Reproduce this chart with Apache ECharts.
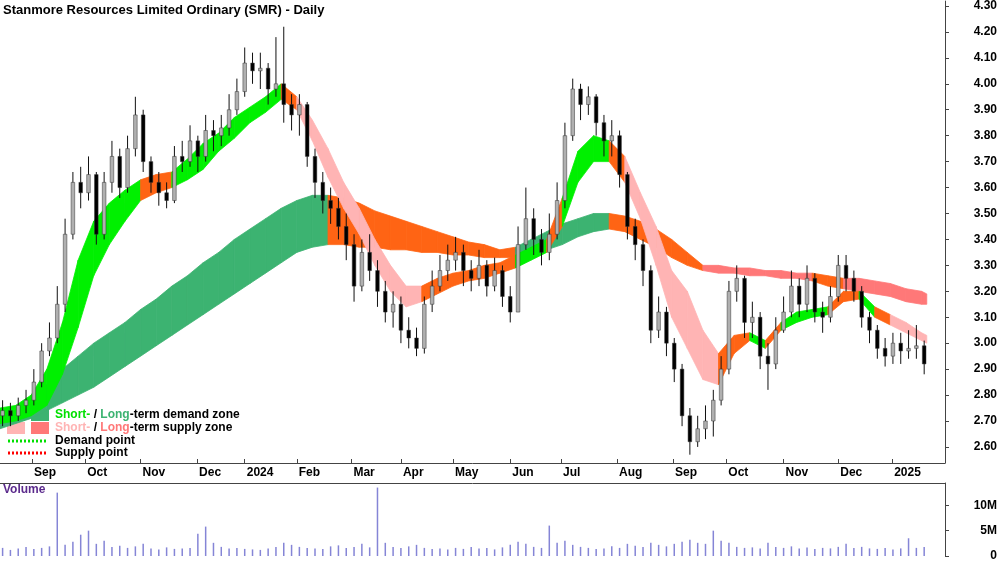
<!DOCTYPE html>
<html><head><meta charset="utf-8">
<script src="https://cdn.jsdelivr.net/npm/echarts@6/dist/echarts.min.js"></script>
<style>html,body{margin:0;padding:0;background:#fff}#c{width:1000px;height:562px}</style>
</head><body><div id="c"></div>
<script>
// ---- data ----
const candleStep = 3; // trading days per candle
const firstOpen = 2.72;
const closes = [2.74,2.72,2.76,2.78,2.85,2.97,3.02,3.15,3.42,3.62,3.58,3.65,3.42,3.62,3.72,3.60,3.75,3.88,3.70,3.62,3.58,3.55,3.72,3.70,3.78,3.72,3.82,3.80,3.83,3.90,3.97,4.08,4.05,4.06,3.98,4.00,3.92,3.88,3.92,3.72,3.62,3.55,3.52,3.45,3.38,3.22,3.35,3.28,3.20,3.12,3.15,3.05,3.02,2.98,3.15,3.22,3.28,3.32,3.35,3.28,3.25,3.30,3.22,3.28,3.18,3.12,3.38,3.48,3.40,3.35,3.42,3.55,3.80,3.98,3.92,3.95,3.85,3.78,3.80,3.65,3.45,3.38,3.28,3.05,3.12,3.00,2.90,2.72,2.62,2.67,2.70,2.78,2.90,3.20,3.25,3.08,3.10,2.95,2.92,3.05,3.12,3.22,3.15,3.25,3.12,3.10,3.18,3.30,3.25,3.20,3.10,3.05,2.98,2.95,3.00,2.97,2.98,2.99,2.92];
const highs = [2.78,2.77,2.79,2.82,2.90,3.00,3.08,3.22,3.48,3.66,3.68,3.72,3.66,3.66,3.78,3.75,3.80,3.95,3.90,3.72,3.66,3.62,3.76,3.78,3.84,3.80,3.88,3.86,3.88,3.96,4.02,4.14,4.12,4.12,4.08,4.18,4.22,3.96,3.96,3.93,3.75,3.66,3.60,3.56,3.50,3.42,3.40,3.42,3.32,3.24,3.20,3.18,3.10,3.06,3.18,3.28,3.34,3.38,3.41,3.38,3.32,3.36,3.32,3.33,3.30,3.22,3.45,3.60,3.52,3.44,3.50,3.62,3.85,4.02,4.00,3.99,3.96,3.88,3.86,3.82,3.66,3.48,3.40,3.30,3.18,3.14,3.02,2.92,2.75,2.72,2.76,2.82,2.95,3.24,3.30,3.26,3.16,3.12,3.00,3.10,3.18,3.28,3.25,3.30,3.27,3.16,3.22,3.34,3.34,3.28,3.22,3.12,3.07,3.02,3.04,3.04,3.05,3.07,3.01];
const lows = [2.68,2.68,2.70,2.73,2.76,2.83,2.95,3.00,3.12,3.40,3.52,3.55,3.38,3.40,3.58,3.56,3.58,3.72,3.66,3.58,3.53,3.52,3.54,3.66,3.68,3.66,3.70,3.74,3.76,3.80,3.88,3.95,4.00,3.98,3.92,3.95,3.85,3.82,3.80,3.68,3.56,3.50,3.46,3.40,3.32,3.16,3.20,3.24,3.14,3.08,3.06,3.00,2.98,2.95,2.96,3.12,3.20,3.24,3.28,3.22,3.20,3.22,3.18,3.20,3.14,3.08,3.12,3.36,3.34,3.30,3.32,3.40,3.52,3.78,3.86,3.88,3.80,3.72,3.72,3.60,3.40,3.32,3.22,3.00,3.02,2.95,2.85,2.68,2.57,2.60,2.63,2.64,2.76,2.88,3.16,3.02,3.02,2.90,2.82,2.90,3.04,3.10,3.10,3.12,3.08,3.04,3.08,3.16,3.20,3.16,3.06,3.00,2.94,2.91,2.92,2.92,2.94,2.94,2.88];
const volumes = [1.6,1.2,1.5,1.8,1.4,1.6,1.9,12.5,2.2,2.8,4.2,5.0,2.4,3.0,1.8,2.0,1.6,1.9,2.4,1.5,1.3,1.7,1.4,1.5,1.6,4.4,5.8,2.6,1.8,1.5,1.6,1.4,1.3,1.2,1.5,1.8,2.6,2.2,1.8,1.6,1.5,1.4,1.9,2.1,1.6,1.8,2.4,1.7,13.5,2.6,1.8,1.6,1.9,2.2,1.6,1.4,1.5,1.3,1.6,1.4,1.8,1.5,1.6,1.3,1.7,2.2,2.8,2.4,1.8,1.6,6.0,2.6,3.0,2.2,1.8,1.6,1.4,1.5,1.9,1.6,2.4,2.0,1.8,2.6,2.2,1.9,2.4,2.8,3.2,2.6,2.4,5.0,3.0,2.6,1.8,1.6,1.7,1.5,2.6,1.8,1.6,1.9,1.5,1.7,1.4,1.6,1.5,1.8,2.4,1.6,1.8,1.5,1.4,1.6,1.3,1.5,3.5,1.6,1.8];
const bandStep = 6; // trading days per band point
const shortLo = [2.69,2.70,2.72,2.76,2.88,3.06,3.26,3.38,3.47,3.55,3.58,3.60,3.63,3.67,3.74,3.79,3.85,3.89,3.94,3.90,3.78,3.64,3.52,3.42,3.30,3.20,3.14,3.16,3.19,3.22,3.24,3.25,3.27,3.29,3.32,3.35,3.45,3.62,3.70,3.70,3.62,3.48,3.30,3.10,2.98,2.86,2.84,2.96,3.01,2.98,3.05,3.08,3.10,3.11,3.16,3.17,3.10,3.07,3.04,3.01,3.00];
const shortHi = [2.75,2.76,2.80,2.90,3.08,3.32,3.47,3.54,3.59,3.63,3.65,3.66,3.71,3.77,3.81,3.87,3.91,3.95,4.00,3.95,3.86,3.75,3.62,3.52,3.40,3.30,3.22,3.22,3.25,3.27,3.28,3.30,3.31,3.34,3.37,3.40,3.56,3.74,3.80,3.78,3.72,3.58,3.45,3.28,3.20,3.05,2.96,3.03,3.04,3.01,3.08,3.12,3.13,3.14,3.20,3.20,3.14,3.11,3.08,3.04,3.03];
const shortState = "gggggggggoogggggggoppppppppooooooggogggoppppppoogogggoogoppppp";
const longLo = [2.67,2.69,2.71,2.74,2.77,2.80,2.83,2.87,2.91,2.95,2.99,3.03,3.07,3.11,3.15,3.19,3.23,3.27,3.31,3.35,3.37,3.38,3.38,3.37,3.37,3.36,3.36,3.35,3.35,3.34,3.34,3.33,3.33,3.33,3.34,3.36,3.38,3.41,3.43,3.44,3.43,3.40,3.37,3.33,3.30,3.28,3.27,3.27,3.26,3.26,3.25,3.25,3.24,3.22,3.21,3.20,3.19,3.18,3.16,3.15,3.15];
const longHi = [2.72,2.74,2.78,2.84,2.90,2.95,3.00,3.04,3.08,3.13,3.17,3.22,3.26,3.31,3.35,3.40,3.44,3.48,3.52,3.55,3.57,3.57,3.56,3.54,3.51,3.49,3.47,3.45,3.43,3.41,3.39,3.38,3.36,3.37,3.40,3.43,3.46,3.48,3.50,3.50,3.49,3.47,3.44,3.40,3.35,3.30,3.30,3.29,3.29,3.28,3.28,3.27,3.27,3.26,3.25,3.25,3.24,3.23,3.21,3.20,3.19];
const longState = "GGGGGGGGGGGGGGGGGGGGGOOOOOOOOOOOOGGGGGGOOOOOOSSSSSSSOOSSSSSSS";
const tickDays = [12.3,32.7,54,75.7,94,114,135,154,174,196,215.5,237,258.5,279,301,322,342.7];
const tickNames = ["Sep","Oct","Nov","Dec","2024","Feb","Mar","Apr","May","Jun","Jul","Aug","Sep","Oct","Nov","Dec","2025"];
const priceTicks = [2.6,2.7,2.8,2.9,3.0,3.1,3.2,3.3,3.4,3.5,3.6,3.7,3.8,3.9,4.0,4.1,4.2,4.3];
const volTicks = [0,5,10];

// ---- build ----
const stateKeys = 'gopGOS';
const palette = ['#00f000','#ff6414','#ffb4b4','#3cb371','#ff6414','#ff7878'];
const candleData = closes.map((c,i)=>[i*candleStep+1, i?closes[i-1]:firstOpen, c, lows[i], highs[i]]);
const volData = volumes.map((v,i)=>[i*candleStep+1, v]);
function bandSegs(lo,hi,st){
  const out=[];
  for(let k=0;k<lo.length-1;k++){
    const x1 = (k+1===lo.length-1)? (k*bandStep+2) : (k+1)*bandStep;
    out.push([k*bandStep, lo[k], hi[k], x1, lo[k+1], hi[k+1], stateKeys.indexOf(st[k])]);
  }
  return out;
}
function bandRender(params, api){
  const a=api.coord([api.value(0),api.value(1)]), b=api.coord([api.value(0),api.value(2)]);
  const c=api.coord([api.value(3),api.value(5)]), d=api.coord([api.value(3),api.value(4)]);
  const col = palette[api.value(6)];
  return {type:'polygon', shape:{points:[a,b,c,d]}, style:{fill:col, stroke:col, lineWidth:0.8}};
}
function candleRender(params, api){
  const x=api.value(0), o=api.value(1), c=api.value(2), l=api.value(3), h=api.value(4);
  const pl=api.coord([x,l]), ph=api.coord([x,h]), po=api.coord([x,o]), pc=api.coord([x,c]);
  const up = c>=o;
  const top=Math.min(po[1],pc[1]), bh=Math.max(1,Math.abs(po[1]-pc[1]));
  return {type:'group', children:[
    {type:'line', shape:{x1:pl[0],y1:pl[1],x2:ph[0],y2:ph[1]}, style:{stroke:'#111',lineWidth:1}},
    {type:'rect', shape:{x:pl[0]-1.8,y:top,width:3.6,height:bh}, style:{fill: up?'#b0b0b0':'#000', stroke:'#333', lineWidth:0.5}}
  ]};
}
const bold = {fontFamily:'Liberation Sans, Arial', fontWeight:'bold', fontSize:12, color:'#000'};
const chart = echarts.init(document.getElementById('c'));
chart.setOption({
  animation:false,
  grid:[{left:0,right:55,top:0,height:463,show:false},{left:0,right:55,top:483,bottom:4,show:false}],
  xAxis:[
    {type:'value',gridIndex:0,min:0,max:363,axisLine:{show:true,onZero:false,lineStyle:{color:'#444'}},splitLine:{show:false},
     axisTick:{show:true,customValues:tickDays,inside:true,length:4,lineStyle:{color:'#444'}},
     axisLabel:Object.assign({customValues:tickDays,align:'left',margin:4,padding:[0,0,0,2],
       formatter:v=>{const i=tickDays.findIndex(t=>Math.abs(t-v)<0.01);return i>=0?tickNames[i]:'';}},bold)},
    {type:'value',gridIndex:1,min:0,max:363,axisLine:{show:true,onZero:false,lineStyle:{color:'#444'}},position:'top',axisTick:{show:false},axisLabel:{show:false},splitLine:{show:false}}
  ],
  yAxis:[
    {type:'value',gridIndex:0,position:'right',min:2.538,max:4.319,axisLine:{show:true,onZero:false,lineStyle:{color:'#444'}},splitLine:{show:false},
     axisTick:{show:true,customValues:priceTicks,length:4,lineStyle:{color:'#444'}},
     axisLabel:Object.assign({customValues:priceTicks,align:'right',margin:52,formatter:v=>v.toFixed(2)},bold)},
    {type:'value',gridIndex:1,position:'right',min:0,max:14.4,axisLine:{show:true,onZero:false,lineStyle:{color:'#444'}},splitLine:{show:false},
     axisTick:{show:true,customValues:volTicks,length:4,lineStyle:{color:'#444'}},
     axisLabel:Object.assign({customValues:volTicks,align:'right',margin:52,formatter:v=>v===0?'0':v+'M'},bold)}
  ],
  series:[
    {type:'custom',renderItem:bandRender,data:bandSegs(longLo,longHi,longState),xAxisIndex:0,yAxisIndex:0,z:1},
    {type:'custom',renderItem:bandRender,data:bandSegs(shortLo,shortHi,shortState),xAxisIndex:0,yAxisIndex:0,z:2},
    {type:'custom',renderItem:candleRender,data:candleData,xAxisIndex:0,yAxisIndex:0,z:3},
    {type:'bar',data:volData,xAxisIndex:1,yAxisIndex:1,barWidth:1.5,itemStyle:{color:'#8585d6'}}
  ],
  graphic:[
    {type:'text',left:3,top:4,style:{text:'Stanmore Resources Limited Ordinary (SMR) - Daily',font:'bold 13px Liberation Sans, Arial',fill:'#000'}},
    {type:'text',left:3,top:484,style:{text:'Volume',font:'bold 12px Liberation Sans, Arial',fill:'#5b2a8c'}},
    {type:'rect',shape:{x:7,y:409,width:18,height:12},style:{fill:'#00f000'}},
    {type:'rect',shape:{x:31,y:409,width:18,height:12},style:{fill:'#3cb371'}},
    {type:'rect',shape:{x:7,y:422,width:18,height:12},style:{fill:'#ffb4b4'}},
    {type:'rect',shape:{x:31,y:422,width:18,height:12},style:{fill:'#ff7878'}},
    {type:'line',shape:{x1:8,y1:441,x2:46,y2:441},style:{stroke:'#00e000',lineWidth:3,lineDash:[2,2]}},
    {type:'line',shape:{x1:8,y1:453,x2:46,y2:453},style:{stroke:'#ff0000',lineWidth:3,lineDash:[2,2]}},
    {type:'text',left:55,top:409,style:{rich:{a:{fill:'#00e000',font:'bold 12px Liberation Sans, Arial'},b:{fill:'#3cb371',font:'bold 12px Liberation Sans, Arial'},k:{fill:'#000',font:'bold 12px Liberation Sans, Arial'}},text:'{a|Short-}{k| / }{b|Long}{k|-term demand zone}'}},
    {type:'text',left:55,top:422,style:{rich:{a:{fill:'#ffb4b4',font:'bold 12px Liberation Sans, Arial'},b:{fill:'#ff7878',font:'bold 12px Liberation Sans, Arial'},k:{fill:'#000',font:'bold 12px Liberation Sans, Arial'}},text:'{a|Short-}{k| / }{b|Long}{k|-term supply zone}'}},
    {type:'text',left:55,top:435,style:{text:'Demand point',font:'bold 12px Liberation Sans, Arial',fill:'#000'}},
    {type:'text',left:55,top:447,style:{text:'Supply point',font:'bold 12px Liberation Sans, Arial',fill:'#000'}}
  ]
});
</script></body></html>
